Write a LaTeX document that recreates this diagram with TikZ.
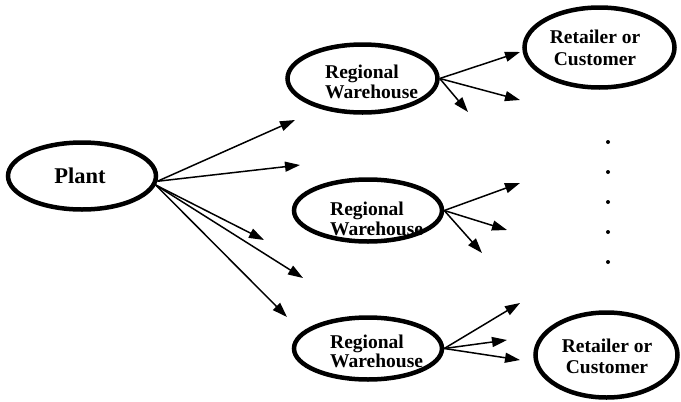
\documentclass[tikz,border=0pt]{standalone}
\usepackage{fontspec}
\setmainfont{Liberation Serif}
\usetikzlibrary{shapes.geometric,arrows.meta}
\begin{document}
\begin{tikzpicture}[x=1pt,y=-1pt,
  oval/.style={ellipse,draw,line width=4.5pt,inner sep=0pt},
  lbl/.style={font=\fontsize{19.5}{20}\selectfont\bfseries,inner sep=0pt},
  flow/.style={line width=1.5pt,-{Triangle[length=15pt,width=10pt]}},
  dot/.style={circle,fill,inner sep=0pt,minimum size=4pt}]
\useasboundingbox (0,0) rectangle (681,402);

% ellipses
\node[oval,minimum width=148pt,minimum height=67pt] (plant) at (82,176) {};
\node[oval,minimum width=150pt,minimum height=68pt] (w1) at (362.5,78.5) {};
\node[oval,minimum width=148pt,minimum height=62pt] (w2) at (368,210.5) {};
\node[oval,minimum width=148pt,minimum height=62pt] (w3) at (368,348.5) {};
\node[oval,minimum width=150pt,minimum height=80pt] (r1) at (599.5,47.5) {};
\node[oval,minimum width=142pt,minimum height=85pt] (r2) at (606.5,355) {};

% labels
\node[lbl,font=\fontsize{22.5}{24}\selectfont\bfseries,anchor=base] (plantlbl) at (80,183) {Plant};
\node[lbl,anchor=base west] (w1a) at (325,78) {Regional};
\node[lbl,anchor=base west] (w1b) at (325,98) {Warehouse};
\node[lbl,anchor=base west] (w2a) at (330,215) {Regional};
\node[lbl,anchor=base west] (w2b) at (330,235) {Warehouse};
\node[lbl,anchor=base west] (w3a) at (330,348) {Regional};
\node[lbl,anchor=base west] (w3b) at (330,367) {Warehouse};
\node[lbl,anchor=base] (r1a) at (595,43) {Retailer or};
\node[lbl,anchor=base] (r1b) at (595,65) {Customer};
\node[lbl,anchor=base] (r2a) at (607,352) {Retailer or};
\node[lbl,anchor=base] (r2b) at (607,373) {Customer};

% arrow ends
\coordinate (p1) at (295,120);
\coordinate (p2) at (300,165);
\coordinate (p3) at (264,240);
\coordinate (p4) at (303,278);
\coordinate (p5) at (287,317);
\coordinate (u1) at (520,52);
\coordinate (u2) at (520,100);
\coordinate (u3) at (468,112);
\coordinate (v1) at (520,183);
\coordinate (v2) at (507,230);
\coordinate (v3) at (482,253);
\coordinate (t1) at (520,303);
\coordinate (t2) at (507,340);
\coordinate (t3) at (520,360);

% plant to warehouses
\draw[flow] (plant.-4) -- (p1);
\draw[flow] (plant.-4) -- (p2);
\draw[flow] (plant.-7) -- (p3);
\draw[flow] (plant.-7) -- (p4);
\draw[flow] (plant.-7) -- (p5);

% warehouses to customers
\draw[flow] (w1.east) -- (u1);
\draw[flow] (w1.east) -- (u2);
\draw[flow] (w1.east) -- (u3);
\draw[flow] (w2.east) -- (v1);
\draw[flow] (w2.east) -- (v2);
\draw[flow] (w2.east) -- (v3);
\draw[flow] (w3.east) -- (t1);
\draw[flow] (w3.east) -- (t2);
\draw[flow] (w3.east) -- (t3);

% vertical ellipsis
\node[dot] (d1) at (608,142) {};
\node[dot] (d2) at (608,172) {};
\node[dot] (d3) at (608,202) {};
\node[dot] (d4) at (608,232) {};
\node[dot] (d5) at (608,262) {};
\end{tikzpicture}
\end{document}
